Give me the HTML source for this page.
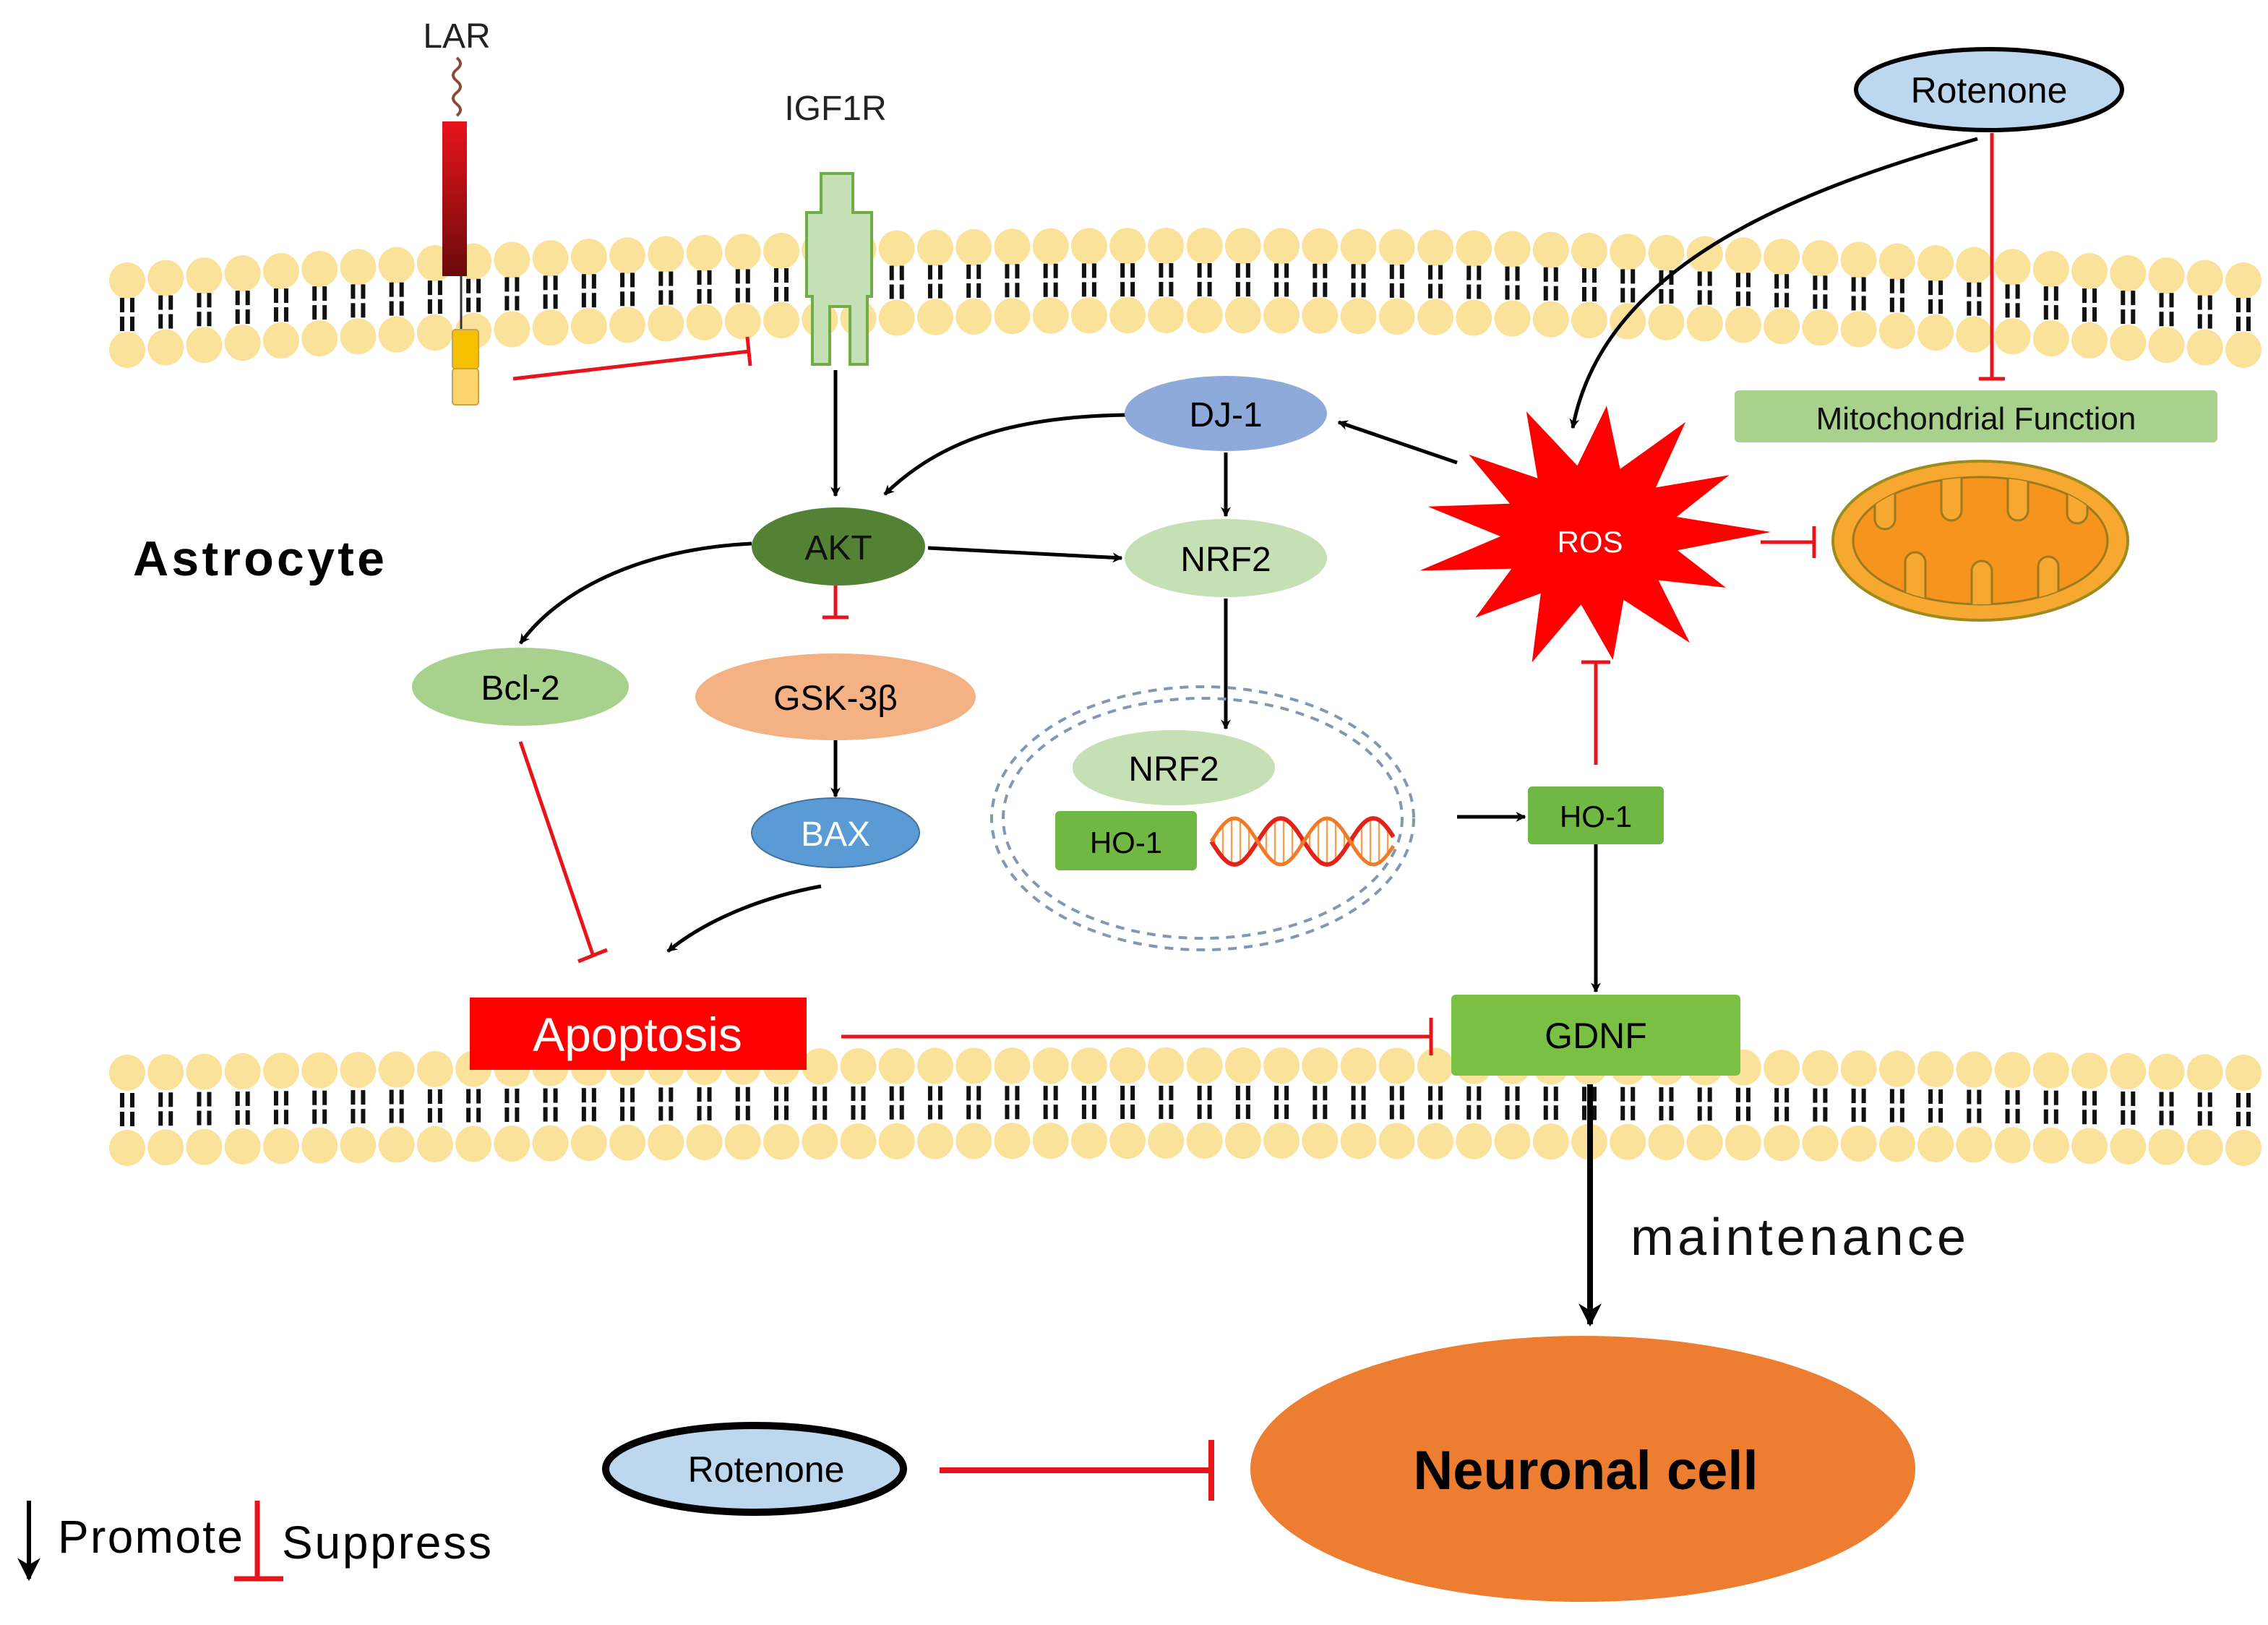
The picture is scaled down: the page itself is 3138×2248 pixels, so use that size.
<!DOCTYPE html>
<html><head><meta charset="utf-8"><style>
html,body{margin:0;padding:0;background:#fff;}
svg{display:block;}
text{font-family:"Liberation Sans",Arial,sans-serif;}
</style></head><body>
<svg id="s" width="3138" height="2248" viewBox="0 0 1569 1124" xmlns="http://www.w3.org/2000/svg">
<defs>
<marker id="ar" viewBox="0 0 10 10" refX="9" refY="5" markerWidth="7" markerHeight="7" orient="auto-start-reverse" markerUnits="userSpaceOnUse"><path d="M0,0 L10,5 L0,10 L3,5z" fill="#000"/></marker>
<marker id="ar2" viewBox="0 0 10 10" refX="9" refY="5" markerWidth="16" markerHeight="16" orient="auto" markerUnits="userSpaceOnUse"><path d="M0,0 L10,5 L0,10 L3,5z" fill="#000"/></marker>
<linearGradient id="lar" x1="0" y1="0" x2="0" y2="1"><stop offset="0" stop-color="#e8141b"/><stop offset="1" stop-color="#6b0a0a"/></linearGradient>
<clipPath id="mc"><ellipse cx="1370" cy="374" rx="88" ry="44"/></clipPath>
</defs>
<g id="mem"></g>

<!-- LAR -->
<text x="316" y="33" font-size="24" text-anchor="middle" fill="#222">LAR</text>
<path d="M316,40 q5,4 0,8 q-5,4 0,8 q5,4 0,8 q-5,4 0,8 q5,4 0,8" fill="none" stroke="#8b4a3a" stroke-width="2"/>
<rect x="306" y="84" width="17" height="107" fill="url(#lar)"/>
<line x1="319" y1="191" x2="319" y2="230" stroke="#333" stroke-width="1.5"/>
<rect x="313" y="228" width="18" height="27" rx="2" fill="#f5c000" stroke="#c9a24a"/>
<rect x="313" y="255" width="18" height="25" rx="2" fill="#fbd46b" stroke="#c9a24a"/>
<!-- IGF1R -->
<text x="578" y="83" font-size="24" text-anchor="middle" fill="#222">IGF1R</text>
<path d="M568,120 H590 V147 H603 V205 H600 V252 H588 V212 H574 V252 H562 V205 H558 V147 H568 Z" fill="#c5e0b4" stroke="#70ad47" stroke-width="2"/>

<!-- connectors -->
<g fill="none" stroke-width="2.5">
<line x1="355" y1="262" x2="518" y2="243" stroke="#e8141b"/>
<line x1="517" y1="233" x2="519" y2="253" stroke="#e8141b"/>
<line x1="578" y1="256" x2="578" y2="343" stroke="#000" marker-end="url(#ar)"/>
<path d="M780,287 C700,288 650,305 612,342" stroke="#000" marker-end="url(#ar)"/>
<line x1="848" y1="313" x2="848" y2="357" stroke="#000" marker-end="url(#ar)"/>
<line x1="642" y1="379" x2="776" y2="386" stroke="#000" marker-end="url(#ar)"/>
<path d="M520,376 C440,380 385,410 360,445" stroke="#000" marker-end="url(#ar)"/>
<line x1="578" y1="405" x2="578" y2="427" stroke="#e8141b"/>
<line x1="569" y1="427" x2="587" y2="427" stroke="#e8141b"/>
<line x1="578" y1="512" x2="578" y2="551" stroke="#000" marker-end="url(#ar)"/>
<line x1="848" y1="414" x2="848" y2="504" stroke="#000" marker-end="url(#ar)"/>
<line x1="1008" y1="565" x2="1055" y2="565" stroke="#000" marker-end="url(#ar)"/>
<line x1="1104" y1="529" x2="1104" y2="458" stroke="#e8141b"/>
<line x1="1094" y1="458" x2="1114" y2="458" stroke="#e8141b"/>
<line x1="1104" y1="584" x2="1104" y2="686" stroke="#000" marker-end="url(#ar)"/>
<line x1="1218" y1="375" x2="1255" y2="375" stroke="#e8141b"/>
<line x1="1255" y1="364" x2="1255" y2="386" stroke="#e8141b"/>
<path d="M568,613 C530,620 490,635 462,658" stroke="#000" marker-end="url(#ar)"/>
<line x1="360" y1="513" x2="410" y2="660" stroke="#e8141b"/>
<line x1="400" y1="665" x2="420" y2="657" stroke="#e8141b"/>
<line x1="582" y1="717" x2="990" y2="717" stroke="#e8141b"/>
<line x1="990" y1="704" x2="990" y2="730" stroke="#e8141b"/>
<line x1="1008" y1="320" x2="926" y2="292" stroke="#000" marker-end="url(#ar)"/>
<path d="M1368,96 C1250,130 1110,180 1088,296" stroke="#000" marker-end="url(#ar)"/>
<line x1="1378" y1="92" x2="1378" y2="262" stroke="#e8141b"/>
<line x1="1369" y1="262" x2="1387" y2="262" stroke="#e8141b"/>
<line x1="1100" y1="750" x2="1100" y2="916" stroke="#000" stroke-width="4" marker-end="url(#ar2)"/>
<line x1="650" y1="1017" x2="838" y2="1017" stroke="#e8141b" stroke-width="4"/>
<line x1="838" y1="996" x2="838" y2="1038" stroke="#e8141b" stroke-width="4"/>
</g>

<!-- nodes -->
<ellipse cx="848" cy="286" rx="70" ry="26" fill="#8eaadb"/>
<text x="848" y="295" font-size="24" text-anchor="middle">DJ-1</text>
<ellipse cx="580" cy="378" rx="60" ry="27" fill="#548235"/>
<text x="580" y="387" font-size="24" text-anchor="middle" fill="#111">AKT</text>
<ellipse cx="848" cy="386" rx="70" ry="27" fill="#c5e0b4"/>
<text x="848" y="395" font-size="24" text-anchor="middle">NRF2</text>
<ellipse cx="360" cy="475" rx="75" ry="27" fill="#a9d18e"/>
<text x="360" y="484" font-size="24" text-anchor="middle">Bcl-2</text>
<ellipse cx="578" cy="482" rx="97" ry="30" fill="#f4b183"/>
<text x="578" y="491" font-size="24" text-anchor="middle">GSK-3β</text>
<ellipse cx="578" cy="576" rx="58" ry="24" fill="#5b9bd5" stroke="#41719c"/>
<text x="578" y="585" font-size="24" text-anchor="middle" fill="#fff">BAX</text>

<ellipse cx="832" cy="566" rx="146" ry="91" fill="none" stroke="#8497b0" stroke-width="2" stroke-dasharray="6,5"/>
<ellipse cx="832" cy="566" rx="138" ry="83" fill="none" stroke="#8497b0" stroke-width="2" stroke-dasharray="6,5"/>
<ellipse cx="812" cy="531" rx="70" ry="26" fill="#c5e0b4"/>
<text x="812" y="540" font-size="24" text-anchor="middle">NRF2</text>
<rect x="730" y="561" width="98" height="41" rx="3" fill="#70b843"/>
<text x="779" y="590" font-size="21" text-anchor="middle">HO-1</text>
<g id="dna"></g>

<rect x="1057" y="544" width="94" height="40" rx="3" fill="#70b843"/>
<text x="1104" y="572" font-size="21" text-anchor="middle">HO-1</text>
<rect x="1004" y="688" width="200" height="56" rx="3" fill="#7ac143"/>
<text x="1104" y="725" font-size="25" text-anchor="middle">GDNF</text>
<rect x="325" y="690" width="233" height="50" fill="#ff0000"/>
<text x="441" y="727" font-size="33" text-anchor="middle" fill="#fff">Apoptosis</text>

<polygon id="ros" fill="#ff0000"/>
<text x="1100" y="382" font-size="21" text-anchor="middle" fill="#fff">ROS</text>

<rect x="1200" y="270" width="334" height="36" rx="3" fill="#a9d18e"/>
<text x="1367" y="297" font-size="22" text-anchor="middle" fill="#111">Mitochondrial Function</text>
<ellipse cx="1370" cy="374" rx="102" ry="55" fill="#f7a831" stroke="#9c8c1e" stroke-width="2"/>
<ellipse cx="1370" cy="374" rx="88" ry="44" fill="#f7941d" stroke="#9c7a1e" stroke-width="1.5"/>
<g clip-path="url(#mc)" fill="#f7a831" stroke="#9c7a1e" stroke-width="1.5">
<rect x="1297" y="300" width="14" height="66" rx="7"/>
<rect x="1343" y="300" width="14" height="60" rx="7"/>
<rect x="1389" y="300" width="14" height="60" rx="7"/>
<rect x="1430" y="300" width="14" height="62" rx="7"/>
<rect x="1318" y="382" width="14" height="70" rx="7"/>
<rect x="1364" y="388" width="14" height="70" rx="7"/>
<rect x="1410" y="385" width="14" height="70" rx="7"/>
</g>

<ellipse cx="1376" cy="62" rx="92" ry="28" fill="#bdd7ee" stroke="#000" stroke-width="3"/>
<text x="1376" y="71" font-size="25" text-anchor="middle">Rotenone</text>
<ellipse cx="522" cy="1016" rx="103" ry="30" fill="#bdd7ee" stroke="#000" stroke-width="5"/>
<text x="530" y="1025" font-size="25" text-anchor="middle">Rotenone</text>
<ellipse cx="1095" cy="1016" rx="230" ry="92" fill="#ed7d31"/>
<text x="1097" y="1030" font-size="38" font-weight="bold" text-anchor="middle">Neuronal cell</text>

<text x="1128" y="868" font-size="36" fill="#111" textLength="232">maintenance</text>
<text x="92" y="398" font-size="34" font-weight="bold" textLength="174">Astrocyte</text>

<line x1="20" y1="1038" x2="20" y2="1092" stroke="#000" stroke-width="3" marker-end="url(#ar2)"/>
<text x="40" y="1074" font-size="32" textLength="128">Promote</text>
<line x1="178" y1="1038" x2="178" y2="1092" stroke="#e8141b" stroke-width="3.5"/>
<line x1="162" y1="1092" x2="196" y2="1092" stroke="#e8141b" stroke-width="3.5"/>
<text x="195" y="1078" font-size="32" textLength="145">Suppress</text>
</svg>
<script>
(function(){
var NS="http://www.w3.org/2000/svg",g=document.getElementById('mem');
function el(t,a,p){var e=document.createElementNS(NS,t);for(var k in a)e.setAttribute(k,a[k]);(p||g).appendChild(e);return e;}
function mem(y0,ym,y1,half){
 var x0=88,x1=1552,n=Math.round((x1-x0)/26.5);
 var heads=[];
 for(var i=0;i<=n;i++){var t=i/n,x=x0+(x1-x0)*t;
  var y=(1-t)*(1-t)*y0+2*(1-t)*t*ym+t*t*y1;
  heads.push([x,y]);}
 heads.forEach(function(h){el('circle',{cx:h[0],cy:h[1]-half,r:12.5,fill:'#fbe29a'});el('circle',{cx:h[0],cy:h[1]+half,r:12.5,fill:'#fbe29a'});});
 heads.forEach(function(h){
  [-3.5,3.5].forEach(function(dx){
   el('rect',{x:h[0]+dx-1.5,y:h[1]-12,width:3,height:10,fill:'#111'});
   el('rect',{x:h[0]+dx-1.5,y:h[1]+1,width:3,height:10,fill:'#111'});
  });});
}
mem(218,170,218,24);
mem(768,758,768,26);
var pts=[],cx=1100,cy=370,N=13;
var outer=[115,120,110,125,105,118,112,120,108,122,115,110,118];
for(var i=0;i<N*2;i++){var a=-Math.PI/2+i*Math.PI/N+0.1;var r=i%2?62:outer[(i/2)|0];
 pts.push((cx+r*Math.cos(a)).toFixed(1)+','+(cy+r*Math.sin(a)*0.78).toFixed(1));}
document.getElementById('ros').setAttribute('points',pts.join(' '));
var d=document.getElementById('dna'),p1='',p2='';
for(var x=838;x<=965;x+=2){var ph=(x-838)/128*2*Math.PI*2;var y1=582+16*Math.sin(ph),y2=582-16*Math.sin(ph);
 p1+=(x==838?'M':'L')+x+','+y1.toFixed(1);p2+=(x==838?'M':'L')+x+','+y2.toFixed(1);
 if(x%6==0)el('line',{x1:x,y1:y1,x2:x,y2:y2,stroke:'#f5a04a','stroke-width':1.2},d);}
el('path',{d:p1,fill:'none',stroke:'#e2231a','stroke-width':3},d);
el('path',{d:p2,fill:'none',stroke:'#f07a28','stroke-width':2.5},d);
})();
</script>
</body></html>
